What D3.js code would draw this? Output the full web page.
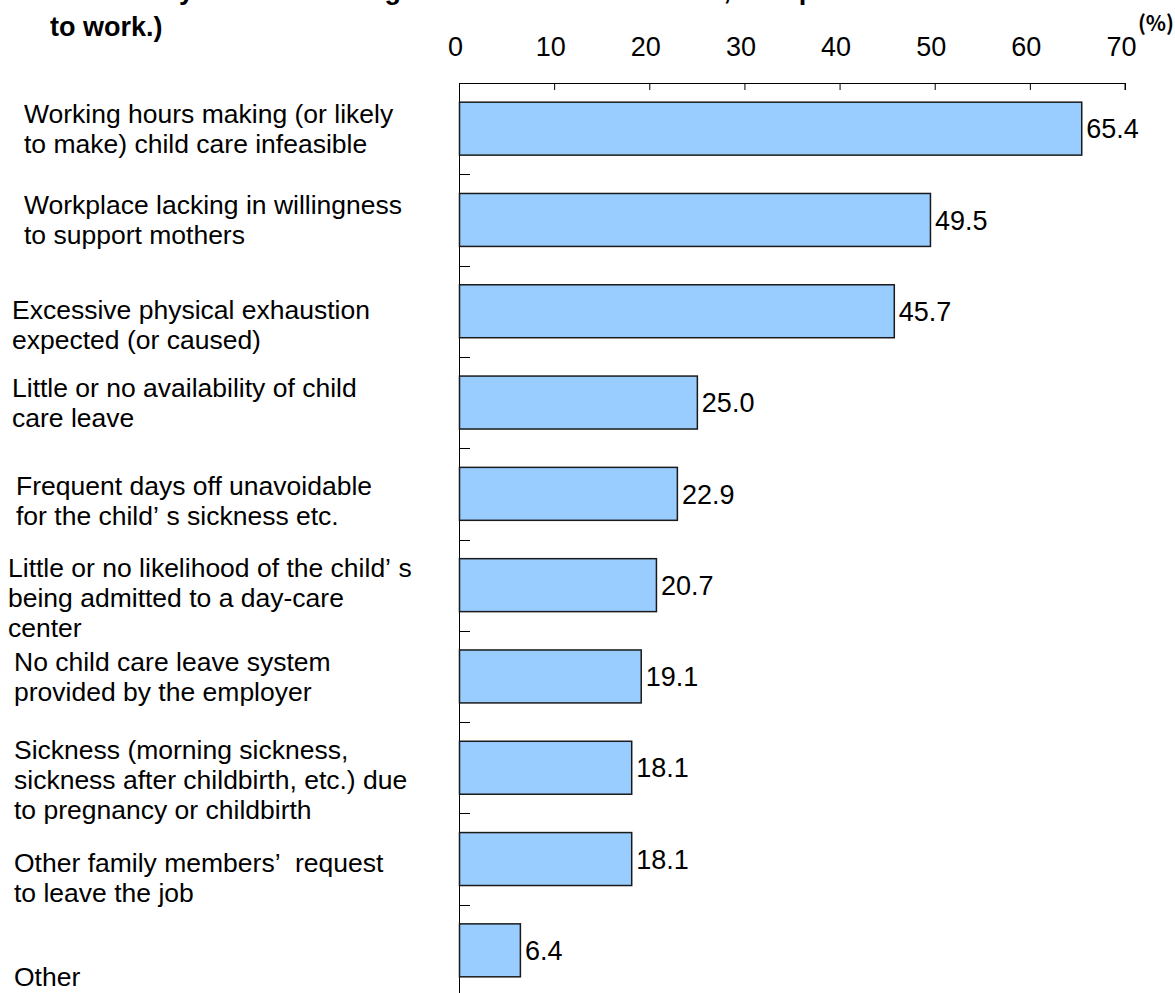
<!DOCTYPE html>
<html>
<head>
<meta charset="utf-8">
<script src="https://cdn.jsdelivr.net/npm/d3@7"></script>
<style>
  html, body { margin: 0; padding: 0; background: #fff; }
  svg { display: block; }
  text { font-family: "Liberation Sans", Arial, sans-serif; fill: #000; }
</style>
</head>
<body>
<script>
// Reasons for leaving the job (%)
const categories = [
  ["Working hours making (or likely", "to make) child care infeasible"],
  ["Workplace lacking in willingness", "to support mothers"],
  ["Excessive physical exhaustion", "expected (or caused)"],
  ["Little or no availability of child", "care leave"],
  ["Frequent days off unavoidable", "for the child\u2019s sickness etc."],
  ["Little or no likelihood of the child\u2019s", "being admitted to a day-care", "center"],
  ["No child care leave system", "provided by the employer"],
  ["Sickness (morning sickness,", "sickness after childbirth, etc.) due", "to pregnancy or childbirth"],
  ["Other family members\u2019 request", "to leave the job"],
  ["Other"]
];
const values = [65.4, 49.5, 45.7, 25.0, 22.9, 20.7, 19.1, 18.1, 18.1, 6.4];
const xTicks = [0, 10, 20, 30, 40, 50, 60, 70];
const titleLines = [
  "Asked only to those having the will to continue work, except those unable",
  "to work.)"
];
const unitLabel = "(%)";

// label block layout: left x and vertical shift from the band centre
const labelX = [24, 24, 12, 12, 16, 8, 14, 14, 14, 14];
const labelShift = [0, 0, 13, 0, 7, 12, 0, 12, 18, 26];

const W = 1175, H = 993;
const plot = { left: 459, right: 1125, top: 83, bottom: 996 };

const svg = d3.select("body").append("svg")
  .attr("width", W).attr("height", H);

const x = d3.scaleLinear().domain([0, 70]).range([plot.left, plot.right]);
const y = d3.scaleBand().domain(d3.range(categories.length))
  .range([plot.top, plot.bottom]).paddingInner(0.42).paddingOuter(0.21);

// title (first line runs off the top edge)
svg.append("g").selectAll("text").data(titleLines).join("text")
  .attr("x", 50).attr("y", (d, i) => -1 + i * 37)
  .style("font-size", "27px").style("font-weight", "bold")
  .text(d => d);

// unit
svg.append("text")
  .attr("x", 1174).attr("y", 31).attr("text-anchor", "end")
  .style("font-family", "'Noto Sans CJK JP', sans-serif")
  .style("font-size", "21px").style("font-weight", "bold")
  .text(unitLabel);

// top axis
const xAxis = d3.axisTop(x).tickValues(xTicks).tickSize(-7).tickFormat(d3.format("d"));
const gx = svg.append("g").attr("transform", `translate(0,${plot.top})`).call(xAxis);
gx.select(".domain").attr("d", `M${plot.left},0.5H${plot.right}V7`).attr("stroke", "#000");
gx.selectAll(".tick line").attr("stroke", "#000");
gx.selectAll(".tick text")
  .attr("y", 56 - plot.top).attr("dy", 0).attr("dx", -4)
  .style("font-family", "'Liberation Sans', Arial, sans-serif")
  .style("font-size", "27px").attr("fill", "#000");

// left axis with ticks at band boundaries
const step = y.step();
const bounds = d3.range(categories.length + 1).map(i => plot.top + i * step);
svg.append("line")
  .attr("x1", plot.left + 0.5).attr("x2", plot.left + 0.5)
  .attr("y1", plot.top).attr("y2", H)
  .attr("stroke", "#000");
svg.append("g").selectAll("line").data(bounds).join("line")
  .attr("x1", plot.left).attr("x2", plot.left + 11)
  .attr("y1", d => Math.round(d) + 0.5).attr("y2", d => Math.round(d) + 0.5)
  .attr("stroke", "#000");

// bars
svg.append("g").selectAll("rect").data(values).join("rect")
  .attr("x", x(0) + 0.5)
  .attr("y", (d, i) => y(i))
  .attr("width", d => x(d) - x(0))
  .attr("height", y.bandwidth())
  .attr("fill", "#99ccff")
  .attr("stroke", "#1a1a1a")
  .attr("stroke-width", 1.5);

// value labels
svg.append("g").selectAll("text").data(values).join("text")
  .attr("x", d => x(d) + 5)
  .attr("y", (d, i) => y(i) + y.bandwidth() / 2)
  .attr("dy", "0.36em")
  .style("font-size", "27px")
  .text(d => d.toFixed(1));

// category labels; the right single quote gets a wide gap after it
const lineH = 30;
const lab = svg.append("g").selectAll("text").data(categories).join("text")
  .attr("x", (d, i) => labelX[i])
  .attr("y", (d, i) => y(i) + y.bandwidth() / 2 + labelShift[i] - (d.length - 1) * lineH / 2)
  .attr("dy", "0.36em")
  .style("font-size", "26.5px");
lab.each(function(lines, i) {
  const t = d3.select(this);
  lines.forEach((line, k) => {
    const parts = line.split("\u2019");
    parts.forEach((p, j) => {
      const ts = t.append("tspan").text(j < parts.length - 1 ? p + "\u2019" : p);
      if (j === 0) ts.attr("x", labelX[i]).attr("dy", k === 0 ? "0.36em" : lineH);
      else ts.attr("dx", 8);
    });
  });
});
</script>
</body>
</html>
